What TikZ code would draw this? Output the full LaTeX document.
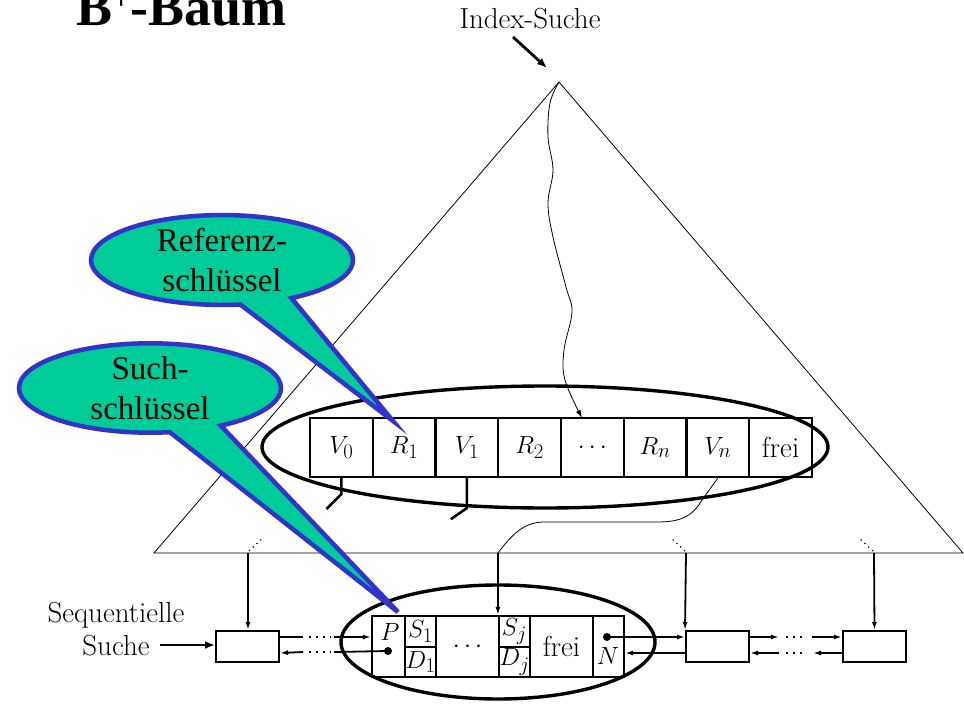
\documentclass[tikz,border=0pt]{standalone}
\usepackage{fontspec}
\newfontfamily\timesfont{Liberation Serif}
\usetikzlibrary{arrows.meta,shapes.geometric,shapes.callouts}
\definecolor{cgreen}{RGB}{0,204,153}
\definecolor{cblue}{RGB}{51,51,204}
\begin{document}
\begin{tikzpicture}[x=1pt,y=-1pt,
  thinln/.style={line width=0.8pt},
  boxln/.style={line width=2.2pt},
  ellln/.style={line width=3.4pt},
  conn/.style={line width=1.8pt},
  tip/.style={-{Latex[length=10pt,width=8pt]}},
  smalltip/.style={-{Latex[length=8pt,width=5pt]}},
  dots/.style={line width=1.3pt,dash pattern=on 2pt off 5pt},
  basedots/.style={line width=1.2pt,dash pattern=on 1.2pt off 4pt},
  lm/.style={font=\fontsize{29}{33}\selectfont},
  cell/.style={draw,boxln,minimum width=62.75pt,minimum height=59pt,inner sep=0pt,lm},
  lcell/.style={draw,boxln,inner sep=0pt,lm},
  smallbox/.style={draw,line width=2pt,minimum width=63pt,minimum height=31pt,inner sep=0pt},
  pdot/.style={circle,fill,inner sep=0pt,minimum size=8pt},
  bubble/.style={ellipse callout,draw=cblue,fill=cgreen,line width=4.5pt,inner sep=0pt,
     align=center,callout pointer arc=24,font=\timesfont\fontsize{33}{40}\selectfont},
]
\clip (0,0) rectangle (964,706);
\fill[white] (0,0) rectangle (964,706);

% title
\node[anchor=base west,inner sep=0pt] (title) at (76,26)
  {\timesfont\bfseries\fontsize{54}{54}\selectfont B\raisebox{16pt}{\fontsize{32}{32}\selectfont +}-Baum};

% index search
\node[lm,inner sep=0pt] (idx) at (530,19) {Index-Suche};
\coordinate (ia) at (513,37);
\coordinate (ib) at (547,68);
\draw[line width=2.8pt,tip] (ia) -- (ib);

% triangle
\coordinate (apex) at (559,82);
\coordinate (bl) at (154,553);
\coordinate (br) at (963,553);
\draw[thinln] (apex) -- (bl) -- (br) -- cycle;

% inner node ellipse and cells
\draw[ellln] (545,447) ellipse [x radius=283, y radius=61];
\node[cell] (c1) at (341.4,447.5) {$V_0$};
\node[cell] (c2) at (404.1,447.5) {$R_1$};
\node[cell] (c3) at (466.9,447.5) {$V_1$};
\node[cell] (c4) at (529.6,447.5) {$R_2$};
\node[cell] (c5) at (592.4,447.5) {$\cdots$};
\node[cell] (c6) at (655.1,447.5) {$R_n$};
\node[cell] (c7) at (717.9,447.5) {$V_n$};
\node[cell] (c8) at (780.6,447.5) {frei};

% wavy search path
\coordinate (wend) at (582,418);
\draw[thinln,smalltip] plot[smooth,tension=0.6] coordinates
  {(559,82) (550,103) (548,137) (553,170) (548,203) (553,237) (566,287) (572,312) (564,350) (565,380) (582,418)};

% pointer stubs
\draw[line width=2.6pt] (c1.south) -- ++(0,16) -- ++(-15,15);
\draw[line width=2.6pt] (c3.south) -- ++(0,30) -- ++(-16,11);

% V_n pointer down to leaf
\coordinate (vb) at (498,553);
\draw[thinln] (c7.south) -- (702,500) .. controls (692,517) and (680,522) .. (657,522)
  -- (545,522) .. controls (527,522) and (515,530) .. (vb);

% base dots
\draw[basedots] (249,551) -- (264,537);
\draw[basedots] (685,551) -- (670,537);
\draw[basedots] (873,551) -- (858,537);

% leaf ellipse and cells
\draw[ellln] (498,642) ellipse [x radius=157, y radius=57];
\node[lcell,minimum width=33pt,minimum height=61pt] (lp) at (388.5,646.5) {};
\node[lcell,minimum width=31pt,minimum height=31pt] (ls1) at (420.5,631.5) {$S_1$};
\node[lcell,minimum width=31pt,minimum height=30pt] (ld1) at (420.5,662) {$D_1$};
\node[lcell,minimum width=63pt,minimum height=61pt] (ldots) at (467.5,646.5) {$\cdots$};
\node[lcell,minimum width=31pt,minimum height=31pt] (lsj) at (514.5,631.5) {$S_j$};
\node[lcell,minimum width=31pt,minimum height=30pt] (ldj) at (514.5,662) {$D_j$};
\node[lcell,minimum width=63pt,minimum height=61pt] (lfrei) at (561.5,646.5) {frei};
\node[lcell,minimum width=31pt,minimum height=61pt] (ln) at (608.5,646.5) {};
\node[lm,inner sep=0pt] (plab) at (390,632) {$P$};
\node[pdot] (pd) at (388,651) {};
\node[pdot] (nd) at (607,637) {};
\node[lm,inner sep=0pt] (nlab) at (608,656) {$N$};

% other leaves
\node[smallbox] (b1) at (247.5,646.5) {};
\node[smallbox] (b3) at (717.5,646.5) {};
\node[smallbox] (b4) at (874.5,646.5) {};

% vertical arrows from tree base
\coordinate (t1) at (248,553);
\coordinate (t3) at (686,553);
\coordinate (t4) at (874,553);
\draw[conn,smalltip] (t1) -- (b1.north -| t1);
\draw[conn,smalltip] (vb) -- (lsj.north west);
\draw[conn,smalltip] (t3) -- (b3.north west);
\draw[conn,smalltip] (t4) -- (b4.north);

% horizontal links
\coordinate (yu) at (0,637);
\coordinate (yl) at (0,653);
\draw[conn] (b1.east |- yu) -- (303,637);
\draw[dots] (309,637) -- (331,637);
\draw[conn,smalltip] (334,637) -- (lp.west |- yu);
\draw[conn] (pd.center) -- (334,652);
\draw[dots] (309,652) -- (331,652);
\draw[conn,smalltip] (303,652) -- (b1.east |- yl);

\draw[conn,smalltip] (nd.center) -- (b3.west |- yu);
\draw[conn,smalltip] (b3.west |- yl) -- (ln.east |- yl);

\draw[conn,smalltip] (b3.east |- yu) -- (779,637);
\draw[dots] (786,637) -- (806,637);
\draw[conn,smalltip] (812,637) -- (b4.west |- yu);
\draw[conn,smalltip] (b4.west |- yl) -- (813,653);
\draw[dots] (786,653) -- (806,653);
\draw[conn,smalltip] (779,653) -- (b3.east |- yl);

% sequential search
\node[align=center,inner sep=0pt,font=\fontsize{29}{33}\selectfont] (seq) at (116,629) {Sequentielle\\Suche};
\coordinate (sa) at (160,645);
\draw[line width=2.6pt,tip] (sa) -- (b1.west |- sa) ;

% callouts
\node[bubble,minimum width=262pt,minimum height=86pt,callout absolute pointer={(393,421)}]
  (ref) at (222,260) {Referenz-\\schlüssel};
\node[bubble,minimum width=262pt,minimum height=86pt,callout absolute pointer={(398,612)}]
  (such) at (150,388) {Such-\\schlüssel};
\end{tikzpicture}
\end{document}
